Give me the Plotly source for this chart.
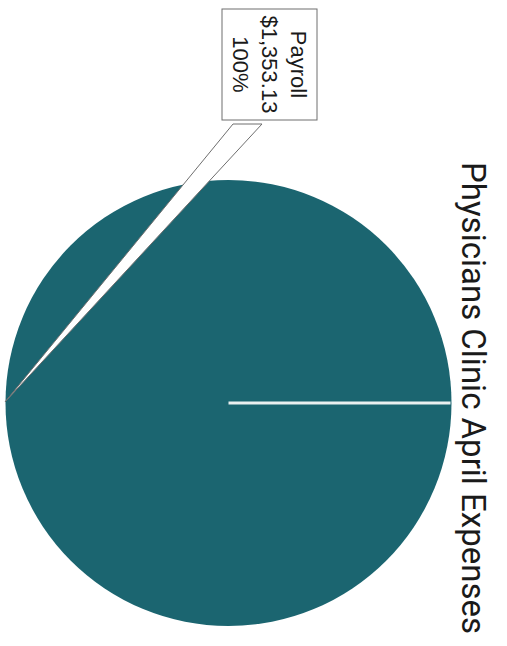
import plotly.graph_objects as go

# Data
categories = ["Payroll"]
values = [1353.13]
percents = ["100%"]
title_text = "Physicians Clinic April Expenses"

W, H = 507, 646
# pie geometry (pixels)
cx, cy, r = 228.5, 403, 223

fig = go.Figure()
fig.add_trace(go.Pie(
    labels=categories,
    values=values,
    sort=False,
    direction="clockwise",
    rotation=90,
    textinfo="none",
    hoverinfo="label+value+percent",
    marker=dict(colors=["rgb(27,101,112)"], line=dict(width=0)),
    domain=dict(x=[(cx - r) / W, (cx + r) / W], y=[(H - cy - r) / H, (H - cy + r) / H]),
    showlegend=False,
))

def px(x):
    return x / W

def py(y):
    return 1 - y / H

shapes = []
# slice boundary line (center to edge)
shapes.append(dict(type="line", xref="paper", yref="paper",
                   x0=px(cx), y0=py(cy), x1=px(cx + r - 1), y1=py(cy),
                   line=dict(color="rgb(235,240,240)", width=3)))
# callout pointer wedge
tip = (5, 402)
b1 = (233, 124)
b2 = (262, 124)
path = "M {} {} L {} {} L {} {} Z".format(px(b1[0]), py(b1[1]), px(tip[0]), py(tip[1]), px(b2[0]), py(b2[1]))
shapes.append(dict(type="path", xref="paper", yref="paper", path=path,
                   fillcolor="white", line=dict(color="rgb(110,110,110)", width=1)))

fmt_val = "${:,.2f}".format(values[0])
label_text = "<br>".join([categories[0], fmt_val, percents[0]])

annotations = [
    dict(text=label_text, x=px(269.5), y=py(64), xref="paper", yref="paper",
         showarrow=False, textangle=90, xanchor="center", yanchor="middle",
         font=dict(family="Liberation Sans, Arial", size=22, color="#1a1a1a"),
         bgcolor="white", bordercolor="rgb(110,110,110)", borderwidth=1,
         borderpad=6, align="center"),
    dict(text=title_text, x=px(474), y=py(398), xref="paper", yref="paper",
         showarrow=False, textangle=90, xanchor="center", yanchor="middle",
         font=dict(family="Roboto, Liberation Sans, Arial", size=33, color="#1a1a1a")),
]

fig.update_layout(
    width=W, height=H,
    margin=dict(l=0, r=0, t=0, b=0),
    paper_bgcolor="white",
    plot_bgcolor="white",
    shapes=shapes,
    annotations=annotations,
)

fig.write_html("out.html", config={"displayModeBar": False},
               post_script="document.body.style.margin='0px';")
